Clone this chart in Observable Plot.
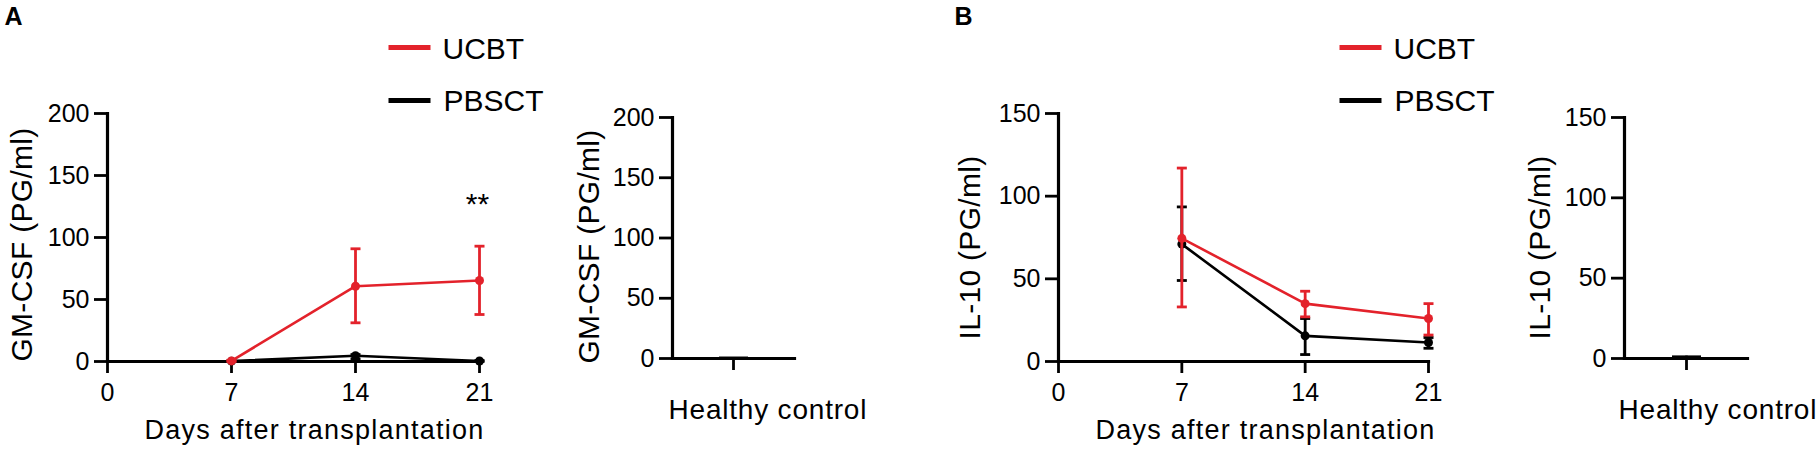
<!DOCTYPE html>
<html><head><meta charset="utf-8">
<script src="https://cdn.jsdelivr.net/npm/d3@7"></script>
<script src="https://cdn.jsdelivr.net/npm/@observablehq/plot@0.6"></script>
<style>
body{margin:0;background:#fff;}
#row{display:flex;width:1817px;height:452px;overflow:hidden;}
#row svg{display:block;overflow:visible;flex:none;}
</style></head><body><div id="row"></div>
<script>
// ---- data ----
const days = [7, 14, 21];
const dayTicks = [0, 7, 14, 21];
const groups = ["UCBT", "PBSCT"];
const healthyCategory = ["Healthy control"];

const gmTicks = [0, 50, 100, 150, 200];
const gmUCBT = [0.5, 60.7, 65.3];
const gmUCBTLow = [0, 31.2, 37.9];
const gmUCBTHigh = [1, 90.9, 93];
const gmPBSCT = [0.3, 4.6, 0.4];
const gmPBSCTLow = [0, 2, 0];
const gmPBSCTHigh = [0.6, 5.6, 0.8];
const gmHealthy = [0.4];
const gmHealthyLow = [0];
const gmHealthyHigh = [0.8];

const ilTicks = [0, 50, 100, 150];
const ilUCBT = [74.5, 35, 26];
const ilUCBTLow = [33, 27, 16];
const ilUCBTHigh = [117, 42.5, 35];
const ilPBSCT = [71, 15.5, 11.5];
const ilPBSCTLow = [49, 4.2, 8];
const ilPBSCTHigh = [93.5, 26, 14.5];
const ilHealthy = [1];
const ilHealthyLow = [0.5];
const ilHealthyHigh = [1.5];

// ---- styles ----
const FONT = "'Liberation Sans', Arial, Helvetica, sans-serif";
const RED = "#e3222b";
const BLACK = "#000000";
const colorOf = {UCBT: RED, PBSCT: BLACK};
const capSym = {draw(c){ c.moveTo(-5, 0); c.lineTo(5, 0); }};
const meanSym = {draw(c){ c.moveTo(-14.5, 0); c.lineTo(14.5, 0); }};
const swatchSym = {draw(c){ c.moveTo(-21, 0); c.lineTo(21, 0); }};

function rows(name, mean, lo, hi, keys) {
  return keys.map((k, i) => ({k, v: mean[i], lo: lo[i], hi: hi[i], s: name}));
}

function label(str, px, py, box, o = {}) {
  return Plot.text([str], {
    frameAnchor: "top-left", dx: px - box.ox - box.ml, dy: py - box.mt,
    fontSize: 30, lineAnchor: "bottom", textAnchor: "start", fill: "#000", ...o
  });
}
function swatch(color, cx, cy, box) {
  return Plot.dot([0], {
    frameAnchor: "top-left", dx: cx - box.ox - box.ml, dy: cy - box.mt,
    symbol: swatchSym, stroke: color, strokeWidth: 5, fill: "none"
  });
}

function axes(box, yTicks) {
  return [
    Plot.axisY({ticks: yTicks, tickSize: 13, tickPadding: 5, fontSize: 25, strokeWidth: 2.8, label: null}),
    Plot.frame({anchor: "left", strokeWidth: 3.2, strokeLinecap: "square"}),
    Plot.frame({anchor: "bottom", strokeWidth: 3.2, strokeLinecap: "square"})
  ];
}

function seriesMarks(data) {
  const out = [];
  for (const s of ["PBSCT", "UCBT"]) {
    const d = data.filter(r => r.s === s);
    const c = colorOf[s];
    out.push(
      Plot.line(d, {x: "k", y: "v", stroke: c, strokeWidth: 2.6}),
      Plot.ruleX(d, {x: "k", y1: "lo", y2: "hi", stroke: c, strokeWidth: 2.8}),
      Plot.dot(d, {x: "k", y: "lo", symbol: capSym, stroke: c, strokeWidth: 2.8, fill: "none"}),
      Plot.dot(d, {x: "k", y: "hi", symbol: capSym, stroke: c, strokeWidth: 2.8, fill: "none"}),
      Plot.dot(d, {x: "k", y: "v", r: 4.5, fill: c, stroke: "none"})
    );
  }
  return out;
}

function linePlot(box, yTicks, data, extra) {
  return Plot.plot({
    width: box.w, height: 452,
    marginLeft: box.ml, marginRight: box.mr, marginTop: box.mt, marginBottom: box.mb,
    style: {fontFamily: FONT, fontSize: "25px", color: "#000", background: "#fff", overflow: "visible"},
    x: {domain: [0, 21]},
    y: {domain: [yTicks[0], yTicks[yTicks.length - 1]]},
    marks: [
      ...axes(box, yTicks),
      Plot.axisX({ticks: dayTicks, tickSize: 12, tickPadding: 10, fontSize: 25, strokeWidth: 2.8, label: null}),
      ...seriesMarks(data),
      ...extra
    ]
  });
}

function healthyPlot(box, yTicks, data, extra) {
  return Plot.plot({
    width: box.w, height: 452,
    marginLeft: box.ml, marginRight: box.mr, marginTop: box.mt, marginBottom: box.mb,
    style: {fontFamily: FONT, fontSize: "25px", color: "#000", background: "#fff", overflow: "visible"},
    x: {type: "point", domain: healthyCategory},
    y: {domain: [yTicks[0], yTicks[yTicks.length - 1]]},
    marks: [
      ...axes(box, yTicks),
      Plot.axisX({tickSize: 12, tickFormat: () => "", strokeWidth: 2.8, label: null}),
      Plot.ruleX(data, {x: "k", y1: "lo", y2: "hi", stroke: BLACK, strokeWidth: 2.5}),
      Plot.dot(data, {x: "k", y: "v", symbol: meanSym, stroke: BLACK, strokeWidth: 3, fill: "none"}),
      ...extra
    ]
  });
}

// ---- boxes (page layout) ----
const b1 = {ox: 0, w: 560, ml: 107, mr: 81, mt: 113, mb: 91};
const b2 = {ox: 560, w: 340, ml: 112, mr: 106, mt: 117, mb: 94};
const b3 = {ox: 900, w: 600, ml: 158, mr: 72, mt: 113, mb: 91};
const b4 = {ox: 1500, w: 317, ml: 124, mr: 70, mt: 117, mb: 94};

const gmData = [
  ...rows("UCBT", gmUCBT, gmUCBTLow, gmUCBTHigh, days),
  ...rows("PBSCT", gmPBSCT, gmPBSCTLow, gmPBSCTHigh, days)
];
const ilData = [
  ...rows("UCBT", ilUCBT, ilUCBTLow, ilUCBTHigh, days),
  ...rows("PBSCT", ilPBSCT, ilPBSCTLow, ilPBSCTHigh, days)
];
const gmH = rows("Healthy", gmHealthy, gmHealthyLow, gmHealthyHigh, healthyCategory);
const ilH = rows("Healthy", ilHealthy, ilHealthyLow, ilHealthyHigh, healthyCategory);

const p1 = linePlot(b1, gmTicks, gmData, [
  label("A", 4, 24, b1, {fontSize: 25, fontWeight: "bold"}),
  label("GM-CSF (PG/ml)", 31, 244, b1, {rotate: -90, textAnchor: "middle"}),
  label("Days after transplantation", 314, 438, b1, {fontSize: 27, textAnchor: "middle"}),
  label("**", 477, 213, b1, {textAnchor: "middle"}),
  swatch(RED, 409, 47, b1), swatch(BLACK, 409, 100, b1),
  label(groups[0], 442, 58, b1), label(groups[1], 443, 110, b1)
]);
const p2 = healthyPlot(b2, gmTicks, gmH, [
  label("GM-CSF (PG/ml)", 598, 246, b2, {rotate: -90, textAnchor: "middle"}),
  label(healthyCategory[0], 668, 418, b2, {fontSize: 28})
]);
const p3 = linePlot(b3, ilTicks, ilData, [
  label("B", 954, 24, b3, {fontSize: 25, fontWeight: "bold"}),
  label("IL-10 (PG/ml)", 979, 247, b3, {rotate: -90, textAnchor: "middle"}),
  label("Days after transplantation", 1265, 438, b3, {fontSize: 27, textAnchor: "middle"}),
  swatch(RED, 1360, 47, b3), swatch(BLACK, 1360, 100, b3),
  label(groups[0], 1393, 58, b3), label(groups[1], 1394, 110, b3)
]);
const p4 = healthyPlot(b4, ilTicks, ilH, [
  label("IL-10 (PG/ml)", 1549, 247, b4, {rotate: -90, textAnchor: "middle"}),
  label(healthyCategory[0], 1618, 418, b4, {fontSize: 28})
]);

const row = document.getElementById("row");
[p1, p2, p3, p4].forEach(p => row.appendChild(p));

const spacing = {"Days after transplantation": "1.25", "Healthy control": "0.8", "GM-CSF (PG/ml)": "0.3", "IL-10 (PG/ml)": "0.3"};
d3.selectAll("#row text").each(function() {
  const t = this.textContent;
  if (spacing[t]) this.setAttribute("letter-spacing", spacing[t]);
});
</script></body></html>
